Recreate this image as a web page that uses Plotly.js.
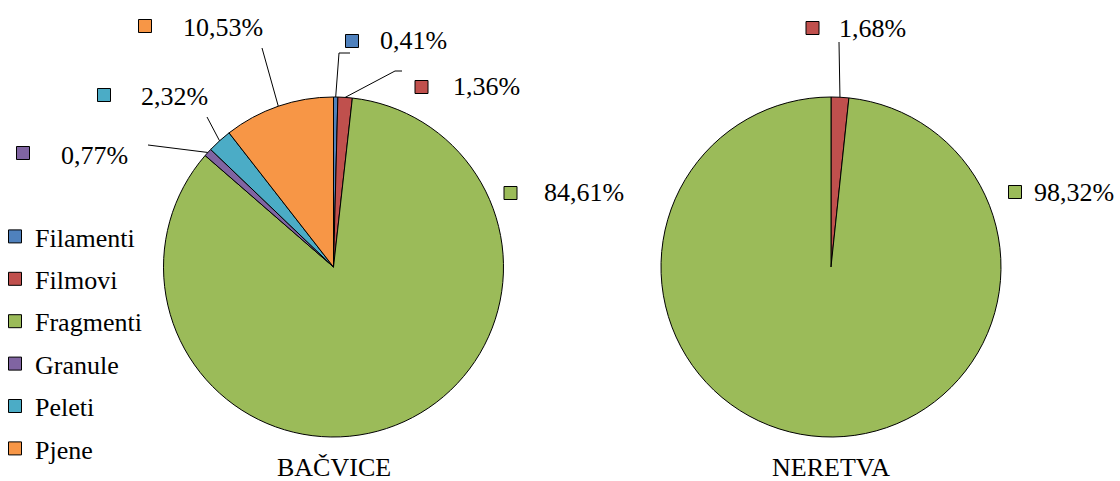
<!DOCTYPE html>
<html>
<head>
<meta charset="utf-8">
<script src="https://cdn.plot.ly/plotly-3.0.1.min.js"></script>
<style>html,body{margin:0;padding:0;background:#fff;}#chart{width:1120px;height:481px;}</style>
</head>
<body>
<div id="chart"></div>
<script>
// ---- data ----
const categories = ['Filamenti', 'Filmovi', 'Fragmenti', 'Granule', 'Peleti', 'Pjene'];
const bacviceValues = [0.41, 1.36, 84.61, 0.77, 2.32, 10.53];
const neretvaCategories = ['Filmovi', 'Fragmenti'];
const neretvaValues = [1.68, 98.32];
const siteNames = ['BAČVICE', 'NERETVA'];
const categoryColors = ['#4F81BD', '#C0504D', '#9BBB59', '#8064A2', '#4BACC6', '#F79646'];

// ---- layout geometry (pixels) ----
const W = 1120, H = 481;
const FONT = 'Liberation Serif';
const pies = [
  {cx: 333.5, cy: 267, r: 170},
  {cx: 831, cy: 267, r: 170}
];
// label placement per slice: square centre, text left/middle, leader bend points
const labelPlacement = [
  { // BAČVICE
    Filamenti: {sq: [352, 41], tx: [378, 40], bends: [[339, 53], [350, 53]]},
    Filmovi:   {sq: [421.5, 87], tx: [451, 86], bends: [[395, 71], [402, 71]]},
    Fragmenti: {sq: [510.5, 193], tx: [542, 192], bends: null},
    Granule:   {sq: [23, 153], tx: [59, 155], bends: [[148, 145]]},
    Peleti:    {sq: [104, 95], tx: [139, 97], bends: [[207, 117]]},
    Pjene:     {sq: [145, 26], tx: [181, 27], bends: [[262, 48]]}
  },
  { // NERETVA
    Filmovi:   {sq: [812.5, 28], tx: [837, 28], bends: [[839, 42]]},
    Fragmenti: {sq: [1015, 192], tx: [1032, 193], bends: null}
  }
];

const px = x => x / W;
const py = y => 1 - y / H;
const colorOf = c => categoryColors[categories.indexOf(c)];
const fmt = v => v.toFixed(2).replace('.', ',') + '%';

const series = [
  {labels: categories, values: bacviceValues},
  {labels: neretvaCategories, values: neretvaValues}
];

const traces = series.map((s, i) => {
  const p = pies[i];
  return {
    type: 'pie',
    labels: s.labels,
    values: s.values,
    sort: false,
    direction: 'clockwise',
    rotation: 0,
    textinfo: 'none',
    hoverinfo: 'label+percent',
    showlegend: false,
    marker: {colors: s.labels.map(colorOf), line: {color: '#000', width: 1}},
    domain: {x: [px(p.cx - p.r), px(p.cx + p.r)], y: [py(p.cy + p.r), py(p.cy - p.r)]}
  };
});

// legend entries (one per category, each in its own group for spacing)
categories.forEach((c, k) => {
  traces.push({
    type: 'scatter', mode: 'markers', x: [null], y: [null],
    name: c, legendgroup: c, showlegend: true, hoverinfo: 'skip',
    marker: {symbol: 'square', size: 13, color: categoryColors[k], line: {color: '#000', width: 1}}
  });
});

const shapes = [];
const annotations = [];
series.forEach((s, i) => {
  const p = pies[i];
  const total = s.values.reduce((a, b) => a + b, 0);
  let cum = 0;
  s.labels.forEach((lab, k) => {
    const v = s.values[k];
    const mid = (cum + v / 2) / total * 2 * Math.PI;
    cum += v;
    const ex = p.cx + p.r * Math.sin(mid);
    const ey = p.cy - p.r * Math.cos(mid);
    const pl = labelPlacement[i][lab];
    if (pl.bends) {
      let path = 'M' + px(ex) + ',' + py(ey);
      pl.bends.forEach(b => { path += ' L' + px(b[0]) + ',' + py(b[1]); });
      shapes.push({type: 'path', xref: 'paper', yref: 'paper', path: path,
        line: {color: '#000', width: 1}});
    }
    const h = 6.5;
    shapes.push({type: 'rect', xref: 'paper', yref: 'paper',
      x0: px(pl.sq[0] - h), x1: px(pl.sq[0] + h), y0: py(pl.sq[1] + h), y1: py(pl.sq[1] - h),
      fillcolor: colorOf(lab), line: {color: '#000', width: 1}});
    annotations.push({xref: 'paper', yref: 'paper', x: px(pl.tx[0]), y: py(pl.tx[1]),
      xanchor: 'left', yanchor: 'middle', showarrow: false, text: fmt(v),
      font: {family: FONT, size: 26, color: '#000'}});
  });
  annotations.push({xref: 'paper', yref: 'paper', x: px(p.cx), y: py(467),
    xanchor: 'center', yanchor: 'middle', showarrow: false, text: siteNames[i],
    font: {family: FONT, size: 26, color: '#000'}});
});

const layout = {
  width: W, height: H,
  margin: {l: 0, r: 0, t: 0, b: 0, autoexpand: false},
  paper_bgcolor: '#fff',
  plot_bgcolor: 'rgba(0,0,0,0)',
  font: {family: FONT, size: 26, color: '#000'},
  showlegend: true,
  xaxis: {visible: false, range: [0, 1]},
  yaxis: {visible: false, range: [0, 1]},
  legend: {x: -5 / W, xanchor: 'left', y: py(213), yanchor: 'top', bgcolor: 'rgba(0,0,0,0)',
    tracegroupgap: 5.6, font: {family: FONT, size: 26, color: '#000'}},
  shapes: shapes,
  annotations: annotations
};

Plotly.newPlot('chart', traces, layout, {displayModeBar: false, staticPlot: true});
</script>
</body>
</html>
